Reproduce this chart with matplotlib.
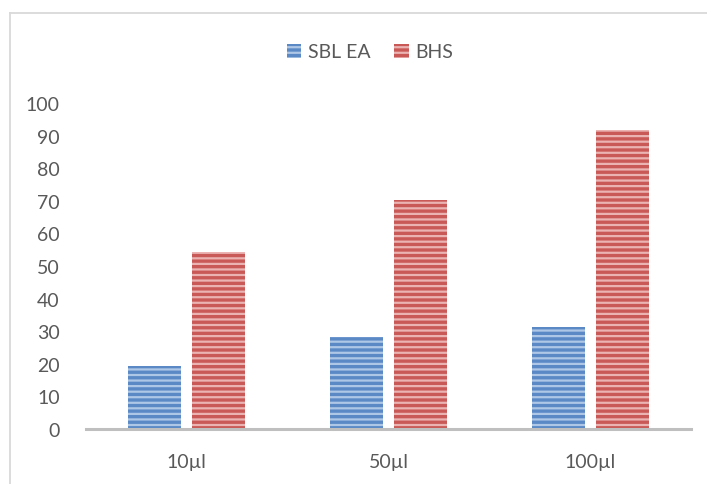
import matplotlib.pyplot as plt
import numpy as np
from matplotlib.lines import Line2D
from matplotlib.patches import Patch

categories = ['10µl', '50µl', '100µl']
sbl_ea = [19.3, 28.2, 31.3]
bhs = [54.3, 70.2, 91.7]
yticks = [0, 10, 20, 30, 40, 50, 60, 70, 80, 90, 100]

plt.rcParams['font.family'] = ['Lato', 'DejaVu Sans']
plt.rcParams['hatch.linewidth'] = 1.6

W, H = 707, 485
fig = plt.figure(figsize=(W / 100, H / 100), dpi=100)
ax = fig.add_axes([86 / W, 55 / H, (691 - 86) / W, 326 / H])

x = np.arange(len(categories))
bw = 0.263
off = 0.159

blue_face, blue_hatch = '#5A89C6', '#AFC7E6'
red_face, red_hatch = '#C95956', '#EBB3B2'

ax.bar(x - off, sbl_ea, bw, color=blue_face, edgecolor=blue_hatch, linewidth=0, hatch='---')
ax.bar(x + off, bhs, bw, color=red_face, edgecolor=red_hatch, linewidth=0, hatch='---')

ax.set_xlim(-0.5, 2.5)
ax.set_ylim(0, 100)
ax.set_yticks(yticks)
ax.set_xticks(x)
ax.set_xticklabels(categories)
ax.tick_params(axis='both', length=0, labelsize=14, colors='#595959')
ax.tick_params(axis='y', pad=19)
ax.tick_params(axis='x', pad=17)

for s in ['top', 'right', 'left']:
    ax.spines[s].set_visible(False)
ax.spines['bottom'].set_color('#BFBFBF')
ax.spines['bottom'].set_linewidth(2.2)

handles = [Patch(facecolor=blue_face, edgecolor=blue_hatch, linewidth=0, hatch='---', label='SBL EA'),
           Patch(facecolor=red_face, edgecolor=red_hatch, linewidth=0, hatch='---', label='BHS')]
fig.legend(handles=handles, loc='center', bbox_to_anchor=(370 / W, 1 - 53 / H), ncol=2,
           frameon=False, fontsize=14, handlelength=0.75, handleheight=0.75,
           handletextpad=0.35, columnspacing=1.2, labelcolor='#595959')

# chart border (only top and left edges visible in crop)
fig.add_artist(Line2D([10 / W, 1.0], [1 - 14 / H, 1 - 14 / H], color='#D9D9D9', lw=1.3,
                      transform=fig.transFigure))
fig.add_artist(Line2D([10 / W, 10 / W], [0, 1 - 14 / H], color='#D9D9D9', lw=1.3,
                      transform=fig.transFigure))

fig.savefig('out.png', dpi=100)
